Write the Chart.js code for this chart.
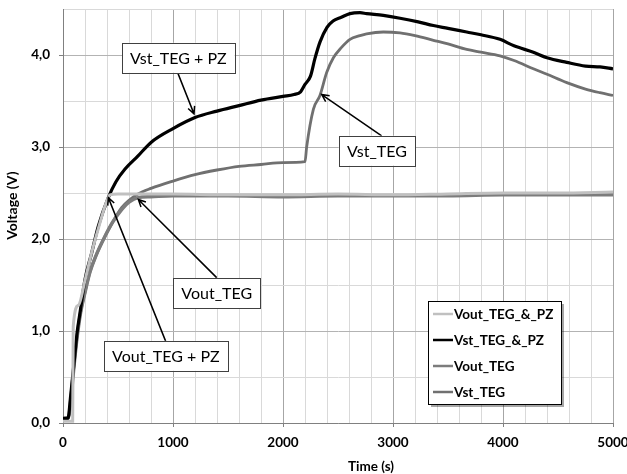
<!DOCTYPE html>
<html>
<head>
<meta charset="utf-8">
<script src="https://cdn.jsdelivr.net/npm/chart.js@4/dist/chart.umd.min.js"></script>
<style>
  html, body { margin: 0; padding: 0; background: #fff; }
  canvas { display: block; }
</style>
</head>
<body>
<canvas id="chart" width="627" height="474"></canvas>
<script>
// Voltage vs time – TEG / TEG + PZ comparison
const xTicks = [0, 1000, 2000, 3000, 4000, 5000];
const yTicks = [0, 1, 2, 3, 4];

// Vout_TEG_&_PZ (light grey)
const voutPzTime = [0, 88, 93, 140, 200, 260, 330, 380, 427, 500, 1000, 1500, 2000, 2500, 3000, 3500, 4000, 4500, 5000];
const voutPzVolt = [0.02, 0.02, 1.05, 1.28, 1.55, 1.85, 2.15, 2.35, 2.48, 2.49, 2.49, 2.48, 2.48, 2.49, 2.48, 2.49, 2.50, 2.50, 2.51];

// Vst_TEG_&_PZ (black)
const vstPzTime = [0, 45, 70, 100, 130, 155, 200, 261, 321, 412, 480, 564, 680, 800, 1000, 1200, 1400, 1600, 1800, 2000, 2100, 2160, 2200, 2250, 2290, 2336, 2400, 2455, 2530, 2609, 2700, 2760, 2912, 3064, 3229, 3367, 3500, 3670, 3800, 3973, 4100, 4276, 4400, 4580, 4750, 4882, 5000];
const vstPzVolt = [0.05, 0.05, 0.30, 0.65, 1.00, 1.20, 1.56, 1.85, 2.14, 2.45, 2.62, 2.76, 2.90, 3.05, 3.20, 3.32, 3.39, 3.45, 3.51, 3.55, 3.57, 3.60, 3.68, 3.77, 3.96, 4.14, 4.30, 4.37, 4.41, 4.45, 4.46, 4.45, 4.43, 4.40, 4.36, 4.32, 4.29, 4.25, 4.22, 4.17, 4.10, 4.03, 3.97, 3.92, 3.88, 3.87, 3.85];

// Vout_TEG (mid grey)
const voutTime = [0, 50, 75, 100, 130, 160, 200, 245, 300, 382, 450, 533, 600, 682, 800, 1000, 1500, 2000, 2500, 3000, 3500, 4000, 4500, 5000];
const voutVolt = [0.05, 0.06, 0.30, 0.62, 0.95, 1.20, 1.42, 1.64, 1.82, 2.03, 2.18, 2.32, 2.40, 2.45, 2.46, 2.47, 2.47, 2.46, 2.47, 2.47, 2.47, 2.48, 2.48, 2.48];

// Vst_TEG (dark grey)
const vstTime = [0, 50, 75, 100, 130, 160, 200, 245, 300, 382, 450, 533, 600, 682, 800, 1000, 1200, 1400, 1600, 1800, 2000, 2200, 2215, 2276, 2336, 2397, 2458, 2530, 2609, 2700, 2760, 2912, 3064, 3200, 3367, 3500, 3670, 3800, 3973, 4100, 4276, 4400, 4580, 4750, 4882, 5000];
const vstVolt = [0.05, 0.06, 0.30, 0.62, 0.95, 1.20, 1.42, 1.64, 1.82, 2.03, 2.18, 2.34, 2.42, 2.49, 2.55, 2.63, 2.70, 2.75, 2.79, 2.81, 2.83, 2.84, 3.00, 3.41, 3.56, 3.81, 3.97, 4.08, 4.17, 4.21, 4.23, 4.25, 4.24, 4.21, 4.16, 4.12, 4.06, 4.03, 3.99, 3.94, 3.85, 3.79, 3.70, 3.63, 3.59, 3.56];

const seriesLabels = ['Vout_TEG_&_PZ', 'Vst_TEG_&_PZ', 'Vout_TEG', 'Vst_TEG'];
const seriesColors = ['#c0c0c0', '#000000', '#7c7c7c', '#707070'];

// call-out boxes: text, box centre, line start and arrow tip (all in data units)
const callouts = [
  { text: 'Vst_TEG + PZ', cx: 1049, cy: 3.97, fx: 1045, fy: 3.80, tx: 1191, ty: 3.36 },
  { text: 'Vst_TEG', cx: 2855, cy: 2.96, fx: 2897, fy: 3.12, tx: 2352, ty: 3.57 },
  { text: 'Vout_TEG', cx: 1398, cy: 1.41, fx: 1397, fy: 1.58, tx: 685, ty: 2.43 },
  { text: 'Vout_TEG + PZ', cx: 935, cy: 0.73, fx: 933, fy: 0.89, tx: 412, ty: 2.45 }
];

const FONT = 'Lato, "Open Sans", sans-serif';

function toPoints(xs, ys) {
  return xs.map((x, i) => ({ x: x, y: ys[i] }));
}

function arrowTo(ctx, x1, y1, x2, y2) {
  const ang = Math.atan2(y2 - y1, x2 - x1);
  const len = 8, spread = 0.45;
  ctx.beginPath();
  ctx.moveTo(x1, y1);
  ctx.lineTo(x2, y2);
  ctx.moveTo(x2 - len * Math.cos(ang - spread), y2 - len * Math.sin(ang - spread));
  ctx.lineTo(x2, y2);
  ctx.lineTo(x2 - len * Math.cos(ang + spread), y2 - len * Math.sin(ang + spread));
  ctx.stroke();
}

const decorPlugin = {
  id: 'decor',
  afterDatasetsDraw(chart) {
    const ctx = chart.ctx;
    const xs = chart.scales.x, ys = chart.scales.y;
    const area = chart.chartArea;
    ctx.save();

    // callouts
    ctx.font = '16px ' + FONT;
    ctx.textAlign = 'center';
    ctx.textBaseline = 'middle';
    callouts.forEach(c => {
      const cx = xs.getPixelForValue(c.cx), cy = ys.getPixelForValue(c.cy);
      ctx.strokeStyle = '#000';
      ctx.lineWidth = 1.5;
      arrowTo(ctx, xs.getPixelForValue(c.fx), ys.getPixelForValue(c.fy),
              xs.getPixelForValue(c.tx), ys.getPixelForValue(c.ty));
      const w = ctx.measureText(c.text).width + 16, h = 30;
      ctx.fillStyle = '#fff';
      ctx.fillRect(cx - w / 2, cy - h / 2, w, h);
      ctx.lineWidth = 1;
      ctx.strokeStyle = '#404040';
      ctx.strokeRect(Math.round(cx - w / 2) + 0.5, Math.round(cy - h / 2) + 0.5, Math.round(w), h);
      ctx.fillStyle = '#000';
      ctx.fillText(c.text, cx, cy + 1);
    });

    // legend
    const lx = area.left + 365, ly = area.top + 292, lw = 133, lh = 103;
    ctx.fillStyle = 'rgba(0,0,0,0.35)';
    ctx.fillRect(lx + 3, ly + 3, lw, lh);
    ctx.fillStyle = '#fff';
    ctx.fillRect(lx, ly, lw, lh);
    ctx.strokeStyle = '#000';
    ctx.lineWidth = 1;
    ctx.strokeRect(lx + 0.5, ly + 0.5, lw, lh);
    ctx.font = 'bold 13.5px ' + FONT;
    ctx.textAlign = 'left';
    chart.data.datasets.forEach((ds, i) => {
      const y = ly + 13 + i * 26;
      ctx.strokeStyle = ds.borderColor;
      ctx.lineWidth = 2.5;
      ctx.beginPath();
      ctx.moveTo(lx + 5, y);
      ctx.lineTo(lx + 25, y);
      ctx.stroke();
      ctx.fillStyle = '#000';
      ctx.fillText(ds.label, lx + 26, y + 1);
    });

    // axis titles
    ctx.font = 'bold 13.5px ' + FONT;
    ctx.textAlign = 'center';
    ctx.fillText('Time (s)', area.left + (area.right - area.left) * 0.56, area.bottom + 44);
    ctx.translate(12, area.top + (area.bottom - area.top) * 0.475);
    ctx.rotate(-Math.PI / 2);
    ctx.font = 'bold 14px ' + FONT;
    ctx.fillText('Voltage (V)', 0, 0);
    ctx.restore();
  }
};

new Chart(document.getElementById('chart'), {
  type: 'line',
  data: {
    datasets: [
      { label: seriesLabels[0], data: toPoints(voutPzTime, voutPzVolt), borderColor: seriesColors[0], borderWidth: 3 },
      { label: seriesLabels[1], data: toPoints(vstPzTime, vstPzVolt), borderColor: seriesColors[1], borderWidth: 3.2 },
      { label: seriesLabels[2], data: toPoints(voutTime, voutVolt), borderColor: seriesColors[2], borderWidth: 3.5 },
      { label: seriesLabels[3], data: toPoints(vstTime, vstVolt), borderColor: seriesColors[3], borderWidth: 2.8 }
    ]
  },
  options: {
    responsive: false,
    animation: false,
    parsing: false,
    elements: {
      point: { radius: 0 },
      line: { cubicInterpolationMode: 'monotone', fill: false }
    },
    layout: { padding: { left: 0, right: 14, top: 9, bottom: 0 } },
    plugins: { legend: { display: false }, tooltip: { enabled: false } },
    scales: {
      x: {
        type: 'linear',
        min: 0, max: 5000,
        ticks: {
          stepSize: 200,
          autoSkip: false,
          maxRotation: 0,
          padding: 8,
          color: '#000',
          font: { family: FONT, weight: 'bold', size: 13.5 },
          callback: v => xTicks.includes(v) ? String(v) : ''
        },
        grid: {
          color: c => c.tick && c.tick.value % 1000 === 0 ? '#a6a6a6' : '#d9d9d9',
          tickColor: c => c.tick && c.tick.value % 1000 === 0 ? '#808080' : 'rgba(0,0,0,0)',
          tickLength: 4
        },
        border: { color: '#808080' },
        afterFit: s => { s.height = 51; s.paddingLeft = 0; s.paddingRight = 0; }
      },
      y: {
        min: 0, max: 4.5,
        ticks: {
          stepSize: 0.5,
          autoSkip: false,
          padding: 9,
          color: '#000',
          font: { family: FONT, weight: 'bold', size: 13.5 },
          callback: v => yTicks.includes(v) ? v.toFixed(1).replace('.', ',') : ''
        },
        grid: {
          color: c => c.tick && Number.isInteger(c.tick.value) ? '#b3b3b3' : '#d9d9d9',
          tickColor: c => c.tick && Number.isInteger(c.tick.value) ? '#808080' : 'rgba(0,0,0,0)',
          tickLength: 4
        },
        border: { color: '#808080' },
        afterFit: s => { s.width = 63; s.paddingTop = 0; s.paddingBottom = 0; }
      }
    }
  },
  plugins: [decorPlugin]
});
</script>
</body>
</html>
